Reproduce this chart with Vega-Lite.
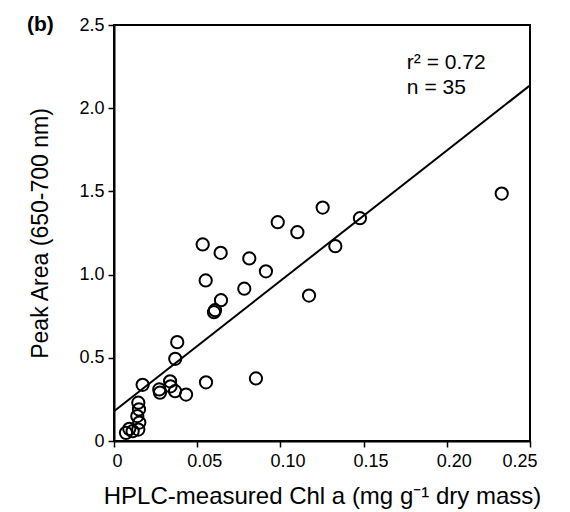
{
  "$schema": "https://vega.github.io/schema/vega-lite/v6.json",
  "autosize": "none",
  "padding": {"left": 114, "top": 25, "right": 40, "bottom": 71},
  "width": 416,
  "height": 416,
  "background": "white",
  "config": {
    "font": "Liberation Sans",
    "view": {"stroke": "black", "strokeWidth": 2},
    "axis": {
      "domainColor": "black", "domainWidth": 2, "tickColor": "black", "tickWidth": 1.5,
      "labelColor": "black", "titleColor": "black", "labelFont": "Liberation Sans",
      "titleFont": "Liberation Sans", "grid": false, "labelFontSize": 18, "titleFontSize": 23,
      "titleFontWeight": "normal", "tickSize": 6
    }
  },
  "datasets": {
    "pts": [
      {"chl": 0.0533, "peak": 1.181}, {"chl": 0.0641, "peak": 1.131}, {"chl": 0.0813, "peak": 1.097},
      {"chl": 0.0913, "peak": 1.020}, {"chl": 0.0551, "peak": 0.965}, {"chl": 0.0783, "peak": 0.915},
      {"chl": 0.0643, "peak": 0.846}, {"chl": 0.0607, "peak": 0.786}, {"chl": 0.0601, "peak": 0.774},
      {"chl": 0.0380, "peak": 0.594}, {"chl": 0.0368, "peak": 0.494}, {"chl": 0.0172, "peak": 0.338},
      {"chl": 0.0337, "peak": 0.359}, {"chl": 0.0272, "peak": 0.310}, {"chl": 0.0276, "peak": 0.290},
      {"chl": 0.0367, "peak": 0.299}, {"chl": 0.0433, "peak": 0.279}, {"chl": 0.0553, "peak": 0.353},
      {"chl": 0.0853, "peak": 0.376}, {"chl": 0.0146, "peak": 0.230}, {"chl": 0.0150, "peak": 0.190},
      {"chl": 0.0140, "peak": 0.150}, {"chl": 0.0152, "peak": 0.111}, {"chl": 0.0146, "peak": 0.069},
      {"chl": 0.0092, "peak": 0.073}, {"chl": 0.0072, "peak": 0.049}, {"chl": 0.1254, "peak": 1.403},
      {"chl": 0.1478, "peak": 1.339}, {"chl": 0.0984, "peak": 1.315}, {"chl": 0.1102, "peak": 1.255},
      {"chl": 0.1330, "peak": 1.171}, {"chl": 0.1172, "peak": 0.874}, {"chl": 0.2330, "peak": 1.487},
      {"chl": 0.0112, "peak": 0.059}, {"chl": 0.0340, "peak": 0.329}
    ],
    "fit": [{"chl": 0, "peak": 0.179}, {"chl": 0.25, "peak": 2.137}],
    "notes": [
      {"chl": 0.176, "peak": 2.233, "label": "r² = 0.72"},
      {"chl": 0.176, "peak": 2.088, "label": "n = 35"}
    ],
    "panel": [{"chl": -0.0523, "peak": 2.5, "label": "(b)"}]
  },
  "layer": [
    {
      "data": {"name": "fit"},
      "mark": {"type": "line", "color": "black", "strokeWidth": 2},
      "encoding": {
        "x": {"field": "chl", "type": "quantitative", "scale": {"domain": [0, 0.25], "nice": false},
          "axis": {"values": [0, 0.05, 0.1, 0.15, 0.2, 0.25], "labelExpr": "datum.value == 0 ? '0' : format(datum.value, '.2f')",
            "labelOffset": {"condition": {"test": "datum.value == 0", "value": -2}, "value": 7},
            "labelPadding": 5, "titlePadding": 14, "titleFontSize": 24, "title": "HPLC-measured Chl a (mg g⁻¹ dry mass)"}},
        "y": {"field": "peak", "type": "quantitative", "scale": {"domain": [0, 2.5], "nice": false},
          "axis": {"values": [0, 0.5, 1, 1.5, 2, 2.5], "labelExpr": "datum.value == 0 ? '0' : format(datum.value, '.1f')",
            "labelPadding": 4, "titlePadding": 26, "title": "Peak Area (650-700 nm)"}}
      }
    },
    {
      "data": {"name": "pts"},
      "mark": {"type": "point", "shape": "circle", "filled": false, "color": "black", "strokeWidth": 2, "size": 150, "opacity": 1},
      "encoding": {
        "x": {"field": "chl", "type": "quantitative"},
        "y": {"field": "peak", "type": "quantitative"}
      }
    },
    {
      "data": {"name": "notes"},
      "mark": {"type": "text", "align": "left", "baseline": "alphabetic", "fontSize": 21, "color": "black"},
      "encoding": {
        "x": {"field": "chl", "type": "quantitative"},
        "y": {"field": "peak", "type": "quantitative"},
        "text": {"field": "label"}
      }
    },
    {
      "data": {"name": "panel"},
      "mark": {"type": "text", "align": "left", "baseline": "middle", "fontSize": 21, "fontWeight": "bold", "color": "black"},
      "encoding": {
        "x": {"field": "chl", "type": "quantitative"},
        "y": {"field": "peak", "type": "quantitative"},
        "text": {"field": "label"}
      }
    }
  ]
}
